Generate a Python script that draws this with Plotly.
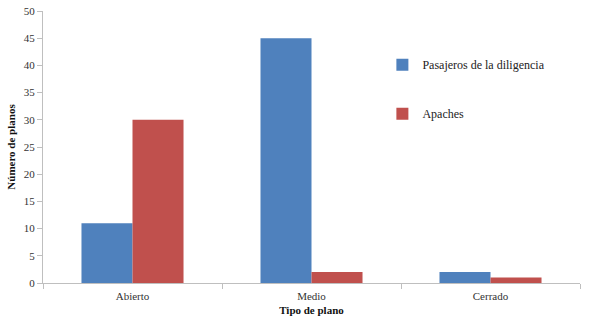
import plotly.graph_objects as go

categories = ["Abierto", "Medio", "Cerrado"]
pasajeros = [11, 45, 2]
apaches = [30, 2, 1]
y_ticks = [0, 5, 10, 15, 20, 25, 30, 35, 40, 45, 50]

fig = go.Figure()
fig.add_trace(go.Bar(x=categories, y=pasajeros, name="Pasajeros de la diligencia",
                     marker=dict(color="#4F81BD", line=dict(width=0)), legendgroup="a"))
fig.add_trace(go.Bar(x=categories, y=apaches, name="Apaches",
                     marker=dict(color="#C0504D", line=dict(width=0)), legendgroup="b"))

font = "Liberation Serif"
fig.update_layout(
    width=589, height=321,
    margin=dict(l=43, r=9, t=11, b=38),
    paper_bgcolor="white", plot_bgcolor="white",
    barmode="group", bargap=0.43, bargroupgap=0,
    font=dict(family=font, size=11, color="#333"),
    showlegend=True,
    legend=dict(x=0.632, y=0.856, xanchor="left", yanchor="top",
                font=dict(family=font, size=12, color="#222"),
                tracegroupgap=30, traceorder="grouped",
                itemwidth=30, bgcolor="rgba(0,0,0,0)"),
    xaxis=dict(showline=True, linecolor="#BFBFBF", linewidth=1, automargin=False,
               ticks="outside", tickcolor="#BFBFBF", ticklen=5, ticklabelstandoff=3,
               tickson="boundaries", showgrid=False,
               title=dict(text="<b>Tipo de plano</b>", font=dict(family=font, size=11, color="#111"), standoff=5),
               tickfont=dict(family=font, size=11, color="#333")),
    yaxis=dict(range=[0, 50], tickvals=y_ticks, showline=True, linecolor="#BFBFBF", linewidth=1,
               automargin=False,
               ticks="outside", tickcolor="#BFBFBF", ticklen=5, showgrid=False, zeroline=False,
               title=dict(text="<b>Número de planos</b>", font=dict(family=font, size=11, color="#111"), standoff=5),
               tickfont=dict(family=font, size=11, color="#333")),
)
fig.write_html("out.html", config={"displayModeBar": False},
               post_script="document.body.style.margin='0';document.body.style.overflow='hidden';")
